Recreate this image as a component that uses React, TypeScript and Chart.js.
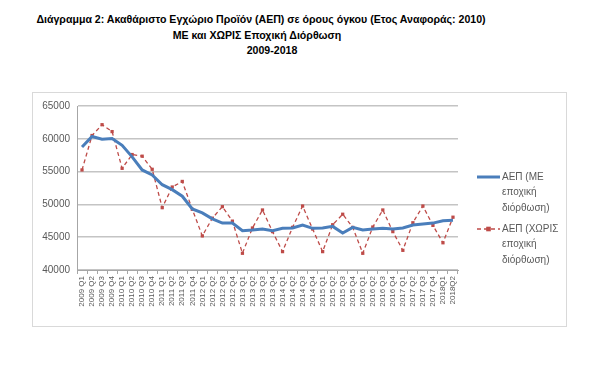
import React, { useEffect, useRef } from "react";
import { Chart, registerables } from "chart.js";

Chart.register(...registerables);

const quarters = [
  "2009 Q1", "2009 Q2", "2009 Q3", "2009 Q4",
  "2010 Q1", "2010 Q2", "2010 Q3", "2010 Q4",
  "2011 Q1", "2011 Q2", "2011 Q3", "2011 Q4",
  "2012 Q1", "2012 Q2", "2012 Q3", "2012 Q4",
  "2013 Q1", "2013 Q2", "2013 Q3", "2013 Q4",
  "2014 Q1", "2014 Q2", "2014 Q3", "2014 Q4",
  "2015 Q1", "2015 Q2", "2015 Q3", "2015 Q4",
  "2016 Q1", "2016 Q2", "2016 Q3", "2016 Q4",
  "2017 Q1", "2017 Q2", "2017 Q3", "2017 Q4",
  "2018Q1", "2018Q2",
];

const gdpSeasonallyAdjusted = [
  58750, 60350, 59950, 60050, 59000, 57250, 55250, 54500, 53000, 52250,
  51250, 49300, 48700, 47800, 47150, 47150, 46000, 46100, 46250, 46000,
  46350, 46400, 46850, 46350, 46400, 46650, 45650, 46500, 46100, 46250,
  46350, 46250, 46400, 46850, 47000, 47150, 47500, 47600,
];

const gdpNotAdjusted = [
  55250, 60500, 62150, 61100, 55500, 57600, 57350, 55350, 49500, 52650,
  53500, 49250, 45200, 47900, 49650, 47450, 42550, 46400, 49150, 45850,
  42800, 46500, 49750, 46250, 42800, 46900, 48500, 46500, 42550, 46550,
  49150, 45850, 43000, 47200, 49750, 46800, 44150, 48050,
];

const legendLinesSA = ["ΑΕΠ (ΜΕ", "εποχική", "διόρθωση)"];
const legendLinesNSA = ["ΑΕΠ (ΧΩΡΙΣ", "εποχική", "διόρθωση)"];

const titleLines = [
  "Διάγραμμα 2: Ακαθάριστο Εγχώριο Προϊόν (ΑΕΠ) σε όρους όγκου (Ετος Αναφοράς: 2010)",
  "ΜΕ και ΧΩΡΙΣ Εποχική Διόρθωση",
  "2009-2018",
];

const yMin = 40000;
const yMax = 65000;
const yStep = 5000;

const BLUE = "#4a7ebb";
const RED = "#be4b48";
const FONT = "'Liberation Sans', Arial, sans-serif";

const legendPlugin = {
  id: "sideLegend",
  afterDraw(chart: any) {
    const ctx = chart.ctx;
    const groups = [
      { lines: legendLinesSA, ds: chart.data.datasets[0], y: 84 },
      { lines: legendLinesNSA, ds: chart.data.datasets[1], y: 136 },
    ];
    ctx.save();
    groups.forEach((g) => {
      const x0 = 444;
      const x1 = 467;
      ctx.beginPath();
      ctx.strokeStyle = g.ds.borderColor;
      ctx.lineWidth = g.ds.borderWidth;
      ctx.setLineDash(g.ds.borderDash || []);
      ctx.moveTo(x0, g.y);
      ctx.lineTo(x1, g.y);
      ctx.stroke();
      ctx.setLineDash([]);
      if (g.ds.pointRadius > 0) {
        ctx.fillStyle = g.ds.pointBackgroundColor;
        const r = g.ds.pointRadius;
        ctx.fillRect((x0 + x1) / 2 - r, g.y - r, r * 2, r * 2);
      }
      ctx.fillStyle = "#595959";
      ctx.font = `10px ${FONT}`;
      ctx.textBaseline = "middle";
      ctx.textAlign = "left";
      g.lines.forEach((t, i) => {
        ctx.fillText(t, x1 + 2, g.y + i * 15.5);
      });
    });
    ctx.restore();
  },
};

export default function App() {
  const canvasRef = useRef<HTMLCanvasElement | null>(null);

  useEffect(() => {
    document.body.style.margin = "0";
    const canvas = canvasRef.current;
    if (!canvas) return;
    const chart = new Chart(canvas, {
      type: "line",
      data: {
        labels: quarters,
        datasets: [
          {
            label: legendLinesSA.join(" "),
            data: gdpSeasonallyAdjusted,
            borderColor: BLUE,
            backgroundColor: BLUE,
            borderWidth: 3,
            pointRadius: 0,
            tension: 0,
          },
          {
            label: legendLinesNSA.join(" "),
            data: gdpNotAdjusted,
            borderColor: RED,
            backgroundColor: RED,
            borderWidth: 1.3,
            borderDash: [4, 3],
            pointStyle: "rect",
            pointRadius: 2.3,
            pointBackgroundColor: RED,
            pointBorderColor: RED,
            pointBorderWidth: 0,
            tension: 0,
          },
        ],
      },
      options: {
        animation: false,
        responsive: false,
        maintainAspectRatio: false,
        layout: { padding: { left: 0, top: 10, right: 108, bottom: 0 } },
        plugins: {
          legend: { display: false },
          title: { display: false },
          tooltip: { enabled: false },
        },
        scales: {
          x: {
            type: "category",
            offset: true,
            grid: {
              offset: true,
              drawOnChartArea: false,
              drawTicks: true,
              tickLength: 4,
              color: "#a6a6a6",
            },
            border: { display: true, color: "#a6a6a6" },
            ticks: {
              autoSkip: false,
              maxRotation: 90,
              minRotation: 90,
              padding: 2,
              color: "#595959",
              font: { family: FONT, size: 8 },
            },
            afterFit(scale: any) {
              scale.height = 56;
            },
          },
          y: {
            min: yMin,
            max: yMax,
            ticks: {
              stepSize: yStep,
              padding: 7,
              color: "#595959",
              font: { family: FONT, size: 10 },
              callback: (v: any) => String(v),
            },
            grid: { color: "#c4c4c4", lineWidth: 1.5, drawTicks: false },
            border: { display: true, color: "#a6a6a6" },
            afterFit(scale: any) {
              scale.width = 44;
            },
          },
        },
      },
      plugins: [legendPlugin],
    });
    return () => chart.destroy();
  }, []);

  const titleCenters = [261, 257, 272];
  const titleTops = [12, 28, 43];

  return (
    <div style={{ position: "relative", width: 598, height: 371, background: "#fff" }}>
      {titleLines.map((t, i) => (
        <div
          key={i}
          style={{
            position: "absolute",
            left: titleCenters[i] - 300,
            width: 600,
            top: titleTops[i],
            textAlign: "center",
            fontFamily: FONT,
            fontWeight: "bold",
            fontSize: 10.6,
            lineHeight: "14px",
            color: "#000",
            whiteSpace: "nowrap",
          }}
        >
          {t}
        </div>
      ))}
      <div
        style={{
          position: "absolute",
          left: 32,
          top: 92,
          width: 535,
          height: 235,
          boxSizing: "border-box",
          border: "1px solid #d9d9d9",
        }}
      >
        <canvas ref={canvasRef} width={533} height={233} style={{ display: "block" }} />
      </div>
    </div>
  );
}
